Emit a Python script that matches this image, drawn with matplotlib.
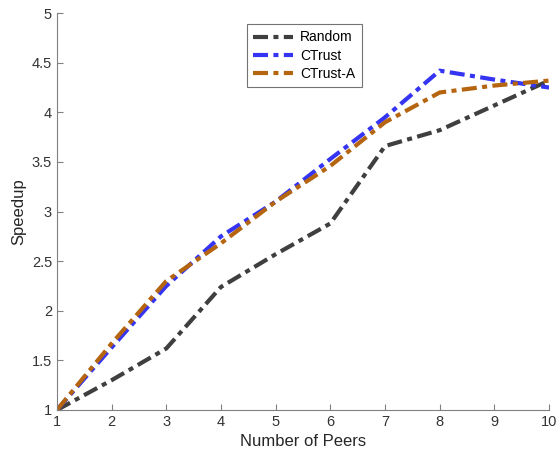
import matplotlib.pyplot as plt

plt.rcParams['font.family'] = ['Liberation Sans', 'DejaVu Sans']

peers = [1, 2, 3, 4, 5, 6, 7, 8, 9, 10]
random_speedup = [1.0, 1.30, 1.62, 2.24, 2.57, 2.88, 3.66, 3.82, 4.07, 4.32]
ctrust_speedup = [1.0, 1.63, 2.25, 2.75, 3.10, 3.53, 3.95, 4.42, 4.33, 4.25]
ctrusta_speedup = [1.0, 1.67, 2.30, 2.68, 3.10, 3.46, 3.90, 4.20, 4.27, 4.32]

fig = plt.figure(figsize=(5.58, 4.62), dpi=100)
ax = fig.add_axes([0.102, 0.1126, 0.882, 0.859])

dash = (0, (3.6, 1.3, 1.2, 1.3))
ax.plot(peers, random_speedup, color='#3f3f3f', lw=3, linestyle=dash, label='Random')
ax.plot(peers, ctrust_speedup, color='#3434f2', lw=3, linestyle=dash, label='CTrust')
ax.plot(peers, ctrusta_speedup, color='#b5640f', lw=3, linestyle=dash, label='CTrust-A')

ax.set_xlim(1, 10)
ax.set_ylim(1, 5)
ax.set_xticks(peers)
ax.set_yticks([1, 1.5, 2, 2.5, 3, 3.5, 4, 4.5, 5])
ax.set_yticklabels(['1', '1.5', '2', '2.5', '3', '3.5', '4', '4.5', '5'])
for s in ['top', 'right']:
    ax.spines[s].set_visible(False)
for s in ['left', 'bottom']:
    ax.spines[s].set_color('#808080')
ax.tick_params(colors='#808080', labelcolor='#333333', labelsize=10.5, direction='in', length=4)
ax.set_xlabel('Number of Peers', fontsize=12, color='#262626')
ax.set_ylabel('Speedup', fontsize=12, color='#262626')

leg = ax.legend(loc='upper left', bbox_to_anchor=(0.386, 0.972), borderaxespad=0,
                fontsize=10, fancybox=False, handlelength=2.9, handletextpad=0.5,
                borderpad=0.45, labelspacing=0.3)
leg.get_frame().set_edgecolor('#505050')
leg.get_frame().set_linewidth(0.8)

plt.savefig('out.png', dpi=100)
